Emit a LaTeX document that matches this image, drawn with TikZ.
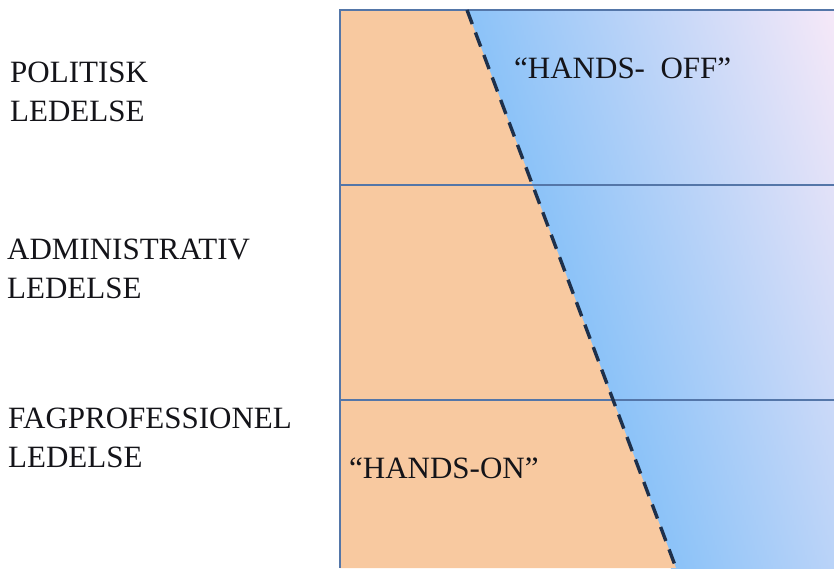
\documentclass[tikz,border=0pt]{standalone}
\usepackage{fontspec}
\setmainfont{Liberation Serif}
\definecolor{orangefill}{RGB}{248,201,160}
\definecolor{blueA}{RGB}{138,194,248}
\definecolor{blueB}{RGB}{200,216,238}
\definecolor{pinkC}{RGB}{250,234,248}
\definecolor{framecol}{RGB}{84,118,168}
\definecolor{dashcol}{RGB}{30,48,75}
\definecolor{txt}{RGB}{20,20,25}
\tikzset{
  lbl/.style={anchor=base west, inner sep=0pt, align=left, text=txt,
    font=\fontsize{31}{39}\selectfont},
  frameline/.style={draw=framecol, line width=1.3pt},
  divider/.style={draw=dashcol, line width=3.4pt, dash pattern=on 15pt off 9pt},
}
\begin{document}
\begin{tikzpicture}[x=1pt,y=-1pt]
\useasboundingbox (0,0) rectangle (834,568);
\begin{scope}
\clip (340,10) rectangle (834,568);
% gradient strips following the slanted line
\foreach \y in {10,15,...,565}{
  \pgfmathsetmacro{\xl}{467+0.3746*(\y-10)-4}
  \shade[left color=blueA, middle color=blueB, right color=pinkC]
    (\xl,\y) rectangle ({\xl+385},{\y+5.6});
}
\fill[orangefill] (340,10) -- (467,10) -- (676,568) -- (340,568) -- cycle;
\end{scope}
% frame
\draw[frameline] (340,568) -- (340,10) -- (834,10);
\draw[frameline] (340,185) -- (834,185);
\draw[frameline] (340,400) -- (834,400);
% divider
\coordinate (dtop) at (467,10);
\coordinate (dbot) at (676,568);
\draw[divider] (dtop) -- (dbot);
% labels (anchor at baseline of last line)
\node[lbl] (pol) at (10,121) {POLITISK\\LEDELSE};
\node[lbl] (adm) at (7,298) {ADMINISTRATIV\\LEDELSE};
\node[lbl] (fag) at (8,467) {FAGPROFESSIONEL\\LEDELSE};
\node[lbl] (off) at (514,78) {“HANDS-\hspace{0.5em}OFF”};
\node[lbl] (on) at (349,478) {“HANDS-ON”};
\end{tikzpicture}
\end{document}
